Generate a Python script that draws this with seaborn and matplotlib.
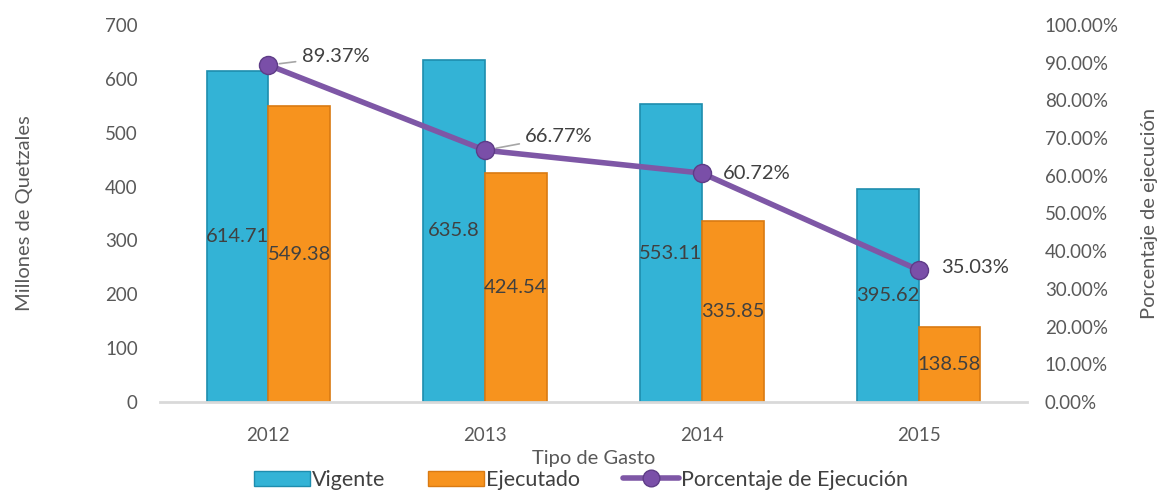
import numpy as np
import pandas as pd
import matplotlib
matplotlib.use("Agg")
import matplotlib.pyplot as plt
from matplotlib.patches import Patch
from matplotlib.lines import Line2D
import seaborn as sns

# --- data ---
years = ["2012", "2013", "2014", "2015"]
vigente = [614.71, 635.8, 553.11, 395.62]
ejecutado = [549.38, 424.54, 335.85, 138.58]
porcentaje = [89.37, 66.77, 60.72, 35.03]

series_names = ["Vigente", "Ejecutado"]
line_name = "Porcentaje de Ejecución"

c_vig = "#33B3D6"
c_eje = "#F7931E"
c_line = "#7E57A6"
txt = "#404040"
tick_c = "#595959"

sns.set_theme(style="white")
plt.rcParams["font.family"] = ["Lato", "DejaVu Sans"]

df = pd.DataFrame({
    "anio": years * 2,
    "valor": vigente + ejecutado,
    "serie": [series_names[0]] * 4 + [series_names[1]] * 4,
})

fig = plt.figure(figsize=(11.62, 5.0), dpi=100)
ax = fig.add_axes([0.1377, 0.196, 0.746, 0.754])

sns.barplot(data=df, x="anio", y="valor", hue="serie",
            palette=[c_vig, c_eje], width=0.57, saturation=1,
            edgecolor=None, linewidth=0, legend=False, ax=ax)

# darker edge to hint at the bevelled bars
for cont, ec in zip(ax.containers, ["#1E8DAE", "#D97A12"]):
    for p in cont:
        p.set_edgecolor(ec)
        p.set_linewidth(1.2)
    ax.bar_label(cont, fmt="%g", label_type="center", fontsize=14.5,
                 color=txt)

ax.set_ylim(0, 700)
ax.set_xlim(-0.5, 3.5)
ax.set_yticks(np.arange(0, 701, 100))
ax.tick_params(axis="y", length=0, pad=16, labelsize=13.5, labelcolor=tick_c)
ax.tick_params(axis="x", length=0, pad=18, labelsize=13.5, labelcolor=tick_c)
ax.set_xlabel("Tipo de Gasto", fontsize=14.5, color=tick_c, labelpad=4)
ax.set_ylabel("Millones de Quetzales", fontsize=14.5, color=tick_c, labelpad=52)
for s in ["left", "right", "top"]:
    ax.spines[s].set_visible(False)
ax.spines["bottom"].set_color("#D9D9D9")
ax.spines["bottom"].set_linewidth(2)

# secondary axis for the execution percentage
ax2 = ax.twinx()
xpos = np.arange(len(years))
ax2.plot(xpos, porcentaje, color=c_line, linewidth=4, marker="o",
         markersize=13, markerfacecolor="#7A4FA8", markeredgecolor="#5E3C87",
         zorder=5)
ax2.set_ylim(0, 100)
ax2.set_yticks(np.arange(0, 101, 10))
ax2.set_yticklabels([f"{v:.2f}%" for v in np.arange(0, 101, 10)])
ax2.tick_params(axis="y", length=0, pad=13, labelsize=13.5, labelcolor=tick_c)
ax2.set_ylabel("Porcentaje de ejecución", fontsize=14.5, color=tick_c, labelpad=16)
for s in ["left", "right", "top", "bottom"]:
    ax2.spines[s].set_visible(False)
ax2.grid(False)

offsets = [(24, 6), (29, 10), (15, 0), (16, 2)]
leaders = [True, True, False, False]
for x, v, off, lead in zip(xpos, porcentaje, offsets, leaders):
    ax2.annotate(f"{v:.2f}%", xy=(x, v), xytext=off, textcoords="offset points",
                 ha="left", va="center", fontsize=14.5, color=txt,
                 arrowprops=dict(arrowstyle="-", color="#A6A6A6", lw=1.2,
                                 shrinkA=2, shrinkB=8) if lead else None)

handles = [
    Patch(facecolor=c_vig, edgecolor="#1E8DAE", label=series_names[0]),
    Patch(facecolor=c_eje, edgecolor="#D97A12", label=series_names[1]),
    Line2D([0], [0], color=c_line, linewidth=4, marker="o", markersize=12,
           markerfacecolor="#7A4FA8", markeredgecolor="#5E3C87", label=line_name),
]
fig.legend(handles=handles, loc="lower center", bbox_to_anchor=(0.50, -0.018),
           ncol=3, frameon=False, fontsize=15.5, handlelength=2.6,
           handleheight=0.7, handletextpad=0.1, columnspacing=2.0,
           labelcolor=txt)

fig.savefig("out.png", dpi=100)
